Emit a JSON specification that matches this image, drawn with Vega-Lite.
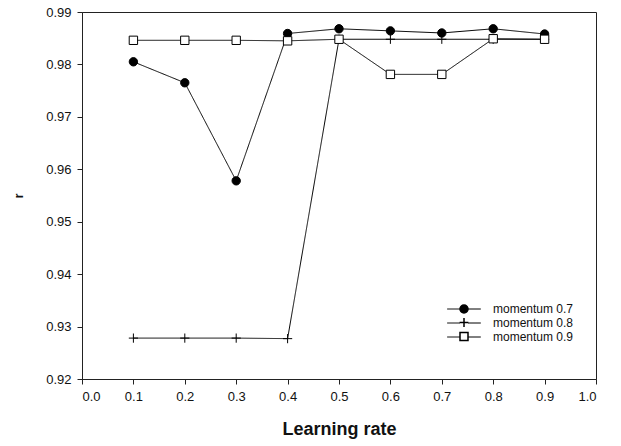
{
  "$schema": "https://vega.github.io/schema/vega-lite/v6.json",
  "width": 514,
  "height": 367,
  "autosize": "none",
  "padding": {"left": 82, "top": 12, "right": 25, "bottom": 67},
  "background": "white",
  "config": {
    "view": {"stroke": "#222", "strokeWidth": 1},
    "font": "Liberation Sans"
  },
  "data": {
    "values": [
      {"series": "momentum 0.7", "lr": 0.1, "r": 0.9805},
      {"series": "momentum 0.7", "lr": 0.2, "r": 0.9765},
      {"series": "momentum 0.7", "lr": 0.3, "r": 0.9578},
      {"series": "momentum 0.7", "lr": 0.4, "r": 0.9859},
      {"series": "momentum 0.7", "lr": 0.5, "r": 0.9868},
      {"series": "momentum 0.7", "lr": 0.6, "r": 0.9864},
      {"series": "momentum 0.7", "lr": 0.7, "r": 0.986},
      {"series": "momentum 0.7", "lr": 0.8, "r": 0.9868},
      {"series": "momentum 0.7", "lr": 0.9, "r": 0.9858},
      {"series": "momentum 0.8", "lr": 0.1, "r": 0.9278},
      {"series": "momentum 0.8", "lr": 0.2, "r": 0.9278},
      {"series": "momentum 0.8", "lr": 0.3, "r": 0.9278},
      {"series": "momentum 0.8", "lr": 0.4, "r": 0.9277},
      {"series": "momentum 0.8", "lr": 0.5, "r": 0.9848},
      {"series": "momentum 0.8", "lr": 0.6, "r": 0.9848},
      {"series": "momentum 0.8", "lr": 0.7, "r": 0.9848},
      {"series": "momentum 0.8", "lr": 0.8, "r": 0.9848},
      {"series": "momentum 0.8", "lr": 0.9, "r": 0.9848},
      {"series": "momentum 0.9", "lr": 0.1, "r": 0.9846},
      {"series": "momentum 0.9", "lr": 0.2, "r": 0.9846},
      {"series": "momentum 0.9", "lr": 0.3, "r": 0.9846},
      {"series": "momentum 0.9", "lr": 0.4, "r": 0.9845},
      {"series": "momentum 0.9", "lr": 0.5, "r": 0.9848},
      {"series": "momentum 0.9", "lr": 0.6, "r": 0.9781},
      {"series": "momentum 0.9", "lr": 0.7, "r": 0.9781},
      {"series": "momentum 0.9", "lr": 0.8, "r": 0.9849},
      {"series": "momentum 0.9", "lr": 0.9, "r": 0.9848}
    ]
  },
  "encoding": {
    "x": {
      "field": "lr",
      "type": "quantitative",
      "scale": {"domain": [0, 1], "nice": false, "zero": false},
      "axis": {
        "values": [0, 0.1, 0.2, 0.3, 0.4, 0.5, 0.6, 0.7, 0.8, 0.9, 1.0],
        "format": ".1f",
        "title": "Learning rate",
        "titleFontSize": 18,
        "titleFontWeight": "bold",
        "titleColor": "#111",
        "titlePadding": 17,
        "grid": false,
        "tickSize": 5,
        "tickColor": "#222",
        "domainColor": "#222",
        "labelFontSize": 13,
        "labelColor": "#111",
        "labelPadding": 6
      }
    },
    "y": {
      "field": "r",
      "type": "quantitative",
      "scale": {"domain": [0.92, 0.99], "nice": false, "zero": false},
      "axis": {
        "values": [0.92, 0.93, 0.94, 0.95, 0.96, 0.97, 0.98, 0.99],
        "format": ".2f",
        "title": "r",
        "titleFontSize": 13,
        "titleFontWeight": "bold",
        "titleColor": "#111",
        "titlePadding": 20,
        "grid": false,
        "tickSize": 5,
        "tickColor": "#222",
        "domainColor": "#222",
        "labelFontSize": 13,
        "labelColor": "#111",
        "labelPadding": 6
      }
    }
  },
  "layer": [
    {
      "mark": {"type": "line", "color": "black", "strokeWidth": 1},
      "encoding": {
        "strokeDash": {
          "field": "series",
          "type": "nominal",
          "scale": {"range": [[1, 0], [1, 0], [1, 0]]},
          "legend": {
            "orient": "none",
            "legendX": 376,
            "legendY": 291,
            "title": null,
            "labelFontSize": 12,
            "labelColor": "transparent",
            "labelExpr": "' '",
            "labelOffset": 23,
            "symbolType": "M-4.2,0H-1M1,0H4.2",
            "symbolSize": 64,
            "symbolStrokeColor": "black",
            "symbolStrokeWidth": 1,
            "symbolFillColor": "transparent",
            "rowPadding": 2
          }
        }
      }
    },
    {
      "mark": {"type": "point", "stroke": "black", "strokeWidth": 1, "opacity": 1, "size": 70},
      "encoding": {
        "shape": {
          "field": "series",
          "type": "nominal",
          "scale": {"range": ["circle", "M-1.1,0H1.1M0,-1.1V1.1", "square"]},
          "legend": {
            "orient": "none",
            "legendX": 376,
            "legendY": 291,
            "title": null,
            "labelFontSize": 12,
            "labelColor": "#111",
            "labelOffset": 23,
            "symbolSize": 64,
            "rowPadding": -1.5,
            "encode": {
              "symbols": {
                "update": {
                  "fill": {"signal": "datum.value === 'momentum 0.7' ? 'black' : datum.value === 'momentum 0.8' ? 'transparent' : 'white'"},
                  "stroke": {"value": "black"},
                  "strokeWidth": {"value": 1},
                  "opacity": {"value": 1}
                }
              }
            }
          }
        },
        "fill": {
          "field": "series",
          "type": "nominal",
          "scale": {"range": ["black", "transparent", "white"]},
          "legend": null
        }
      }
    }
  ]
}
